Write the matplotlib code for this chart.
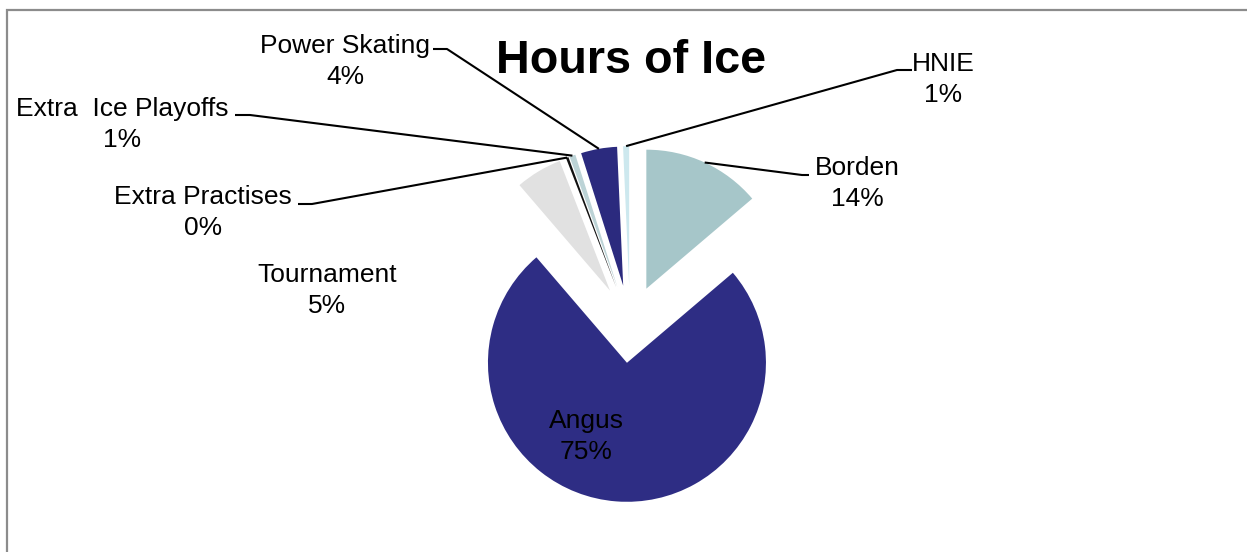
import math

import matplotlib.pyplot as plt
from matplotlib.patches import Rectangle

# data (share of ice hours)
categories = ["Borden", "Angus", "Tournament", "Extra Practises",
              "Extra  Ice Playoffs", "Power Skating", "HNIE"]
hours = [13.8, 75.0, 5.4, 0.3, 0.7, 4.2, 0.7]
colors = ["#A6C6C9", "#2E2D84", "#E1E1E1", "#111111",
          "#BCD3D6", "#2B2A7E", "#CDE8EE"]

W, H = 1247, 552
CENTER = (630, 324)   # pixel coords, y down
RADIUS = 139
EXPLODE = 0.28        # fraction of radius
FONT = "Liberation Sans"

# label layout: (text center x, baseline y of first line, leader elbow, leader end)
layout = {
    "Borden": (857, 175, (802, 175), (809, 175)),
    "Angus": (586, 428, None, None),
    "Tournament": (327, 282, None, None),
    "Extra Practises": (203, 204, (312, 204), (298, 204)),
    "Extra  Ice Playoffs": (122, 116, (250, 115), (235, 115)),
    "Power Skating": (345, 53, (447, 49), (433, 49)),
    "HNIE": (943, 71, (897, 70), (912, 70)),
}


def px(x, y):
    return x, H - y


fig = plt.figure(figsize=(W / 100, H / 100), dpi=100)
ax = fig.add_axes([0, 0, 1, 1])

# pie's explode is in data units, so scale by radius
ax.pie(
    hours,
    colors=colors,
    explode=[EXPLODE * RADIUS] * len(hours),
    startangle=90,
    counterclock=False,
    radius=RADIUS,
    center=px(*CENTER),
    wedgeprops=dict(linewidth=0),
)
ax.set_xlim(0, W)
ax.set_ylim(0, H)
ax.set_aspect("equal")
ax.axis("off")

# chart frame (left and top edges visible)
ax.add_patch(Rectangle(px(7, 600), 1400, 590, fill=False,
                       edgecolor="#8c8c8c", linewidth=1.6, zorder=0))

total = sum(hours)
start = 0.0
for name, value in zip(categories, hours):
    frac = value / total
    mid = (start + frac / 2) * 360.0
    start += frac
    tx, base, elbow, end = layout[name]
    pct = f"{round(frac * 100):.0f}%"
    ax.text(*px(tx, base), name, ha="center", va="baseline",
            fontsize=19, family=FONT)
    ax.text(*px(tx, base + 31), pct, ha="center", va="baseline",
            fontsize=19, family=FONT)
    if elbow is not None:
        r = RADIUS * (1 + EXPLODE)
        ax0 = CENTER[0] + r * math.sin(math.radians(mid))
        ay0 = CENTER[1] - r * math.cos(math.radians(mid))
        xs = [ax0, elbow[0], end[0]]
        ys = [ay0, elbow[1], end[1]]
        ax.plot(xs, [H - y for y in ys], color="black", linewidth=1.5,
                solid_capstyle="butt")

ax.text(*px(631, 73), "Hours of Ice", ha="center", va="baseline",
        fontsize=33.7, fontweight="bold", family=FONT)

fig.savefig("out.png", dpi=100)
